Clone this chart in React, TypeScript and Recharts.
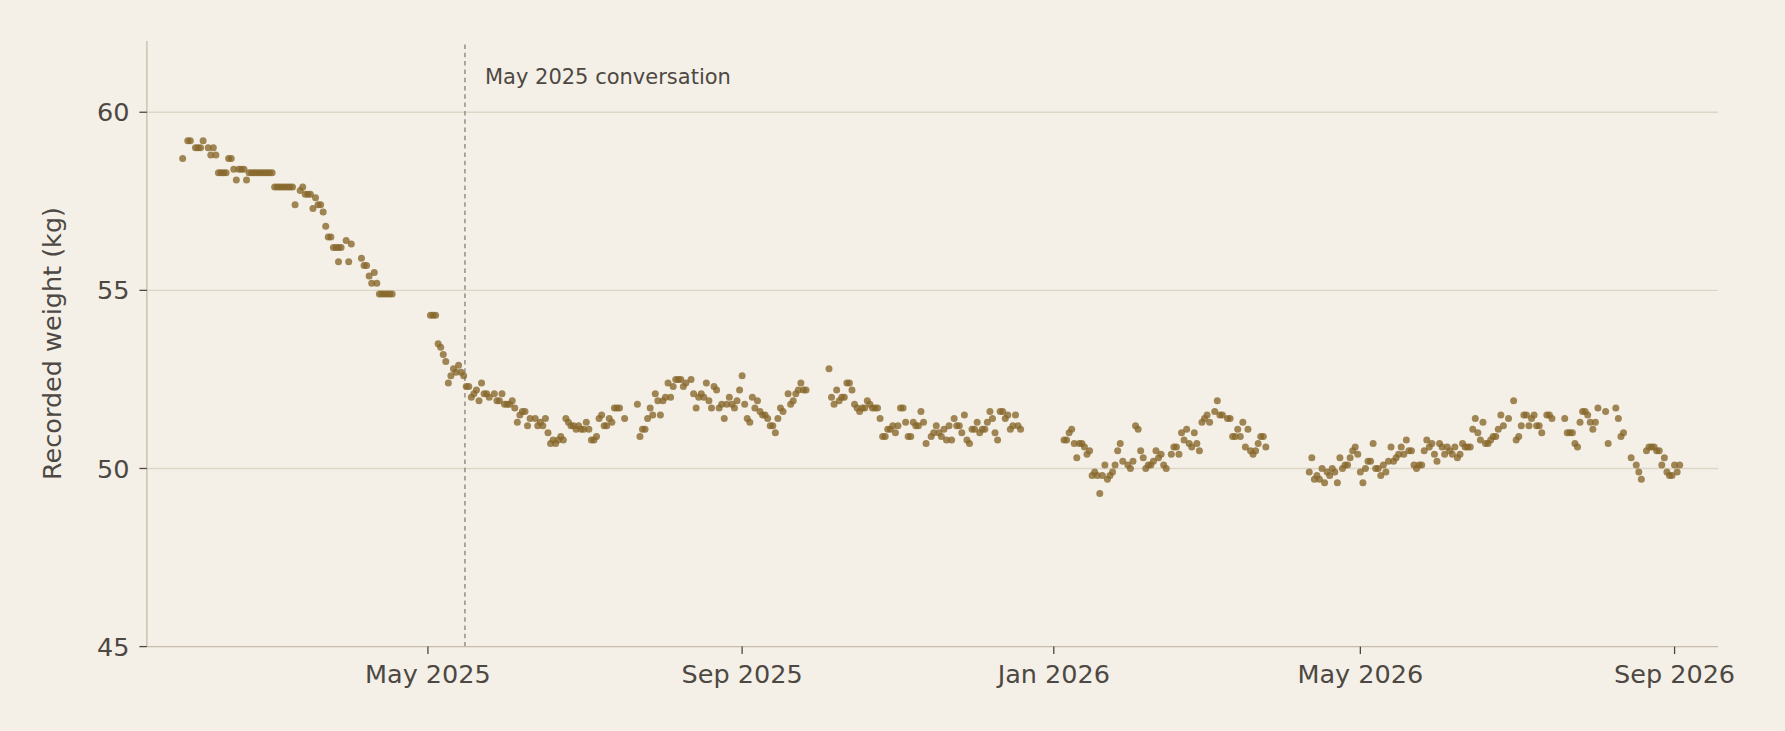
import { ScatterChart, Scatter, XAxis, YAxis, CartesianGrid, ReferenceLine } from 'recharts'

// day offsets are counted from 1 May 2025
const dayZero = Date.UTC(2025, 4, 1)
const MS_PER_DAY = 86400000
const dayOf = (iso: string) => (Date.parse(iso + 'T00:00:00Z') - dayZero) / MS_PER_DAY

const tickDates = ['2025-05-01', '2025-09-01', '2026-01-01', '2026-05-01', '2026-09-01']
const tickLabels = ['May 2025', 'Sep 2025', 'Jan 2026', 'May 2026', 'Sep 2026']
const yTicks = [45, 50, 55, 60]
const conversationDay = 14.5
const conversationLabel = 'May 2025 conversation'

// [day, kg]
const winter2025: [number, number][] = [
  [-96, 58.7], [-94, 59.2], [-93, 59.2], [-91, 59.0], [-90, 59.0], [-89, 59.0], [-88, 59.2],
  [-86, 59.0], [-85, 58.8], [-84, 59.0], [-83, 58.8], [-82, 58.3], [-81, 58.3], [-80, 58.3],
  [-79, 58.3], [-78, 58.7], [-77, 58.7], [-76, 58.4], [-75, 58.1], [-74, 58.4], [-73, 58.4],
  [-72, 58.4], [-71, 58.1], [-70, 58.3], [-69, 58.3], [-68, 58.3], [-67, 58.3], [-66, 58.3],
  [-65, 58.3], [-64, 58.3], [-63, 58.3], [-62, 58.3], [-61, 58.3], [-60, 57.9], [-59, 57.9],
  [-58, 57.9], [-57, 57.9], [-56, 57.9], [-55, 57.9], [-54, 57.9], [-53, 57.9], [-52, 57.4],
  [-50, 57.8], [-49, 57.9], [-48, 57.7], [-47, 57.7], [-46, 57.7], [-45, 57.3], [-44, 57.6],
  [-43, 57.4], [-42, 57.4], [-41, 57.2], [-40, 56.8], [-39, 56.5], [-38, 56.5], [-37, 56.2],
  [-36, 56.2], [-35, 56.2], [-34, 56.2], [-35, 55.8], [-32, 56.4], [-31, 55.8], [-30, 56.3],
  [-26, 55.9], [-25, 55.7], [-24, 55.7], [-23, 55.4], [-22, 55.2], [-21, 55.5], [-20, 55.2],
  [-19, 54.9], [-18, 54.9], [-17, 54.9], [-16, 54.9], [-15, 54.9], [-14, 54.9],
]

const spring2025: [number, number][] = [
  [1, 54.3], [2, 54.3], [3, 54.3], [4, 53.5], [5, 53.4], [6, 53.2], [7, 53.0], [8, 52.4],
  [9, 52.6], [10, 52.8], [11, 52.7], [12, 52.9], [13, 52.7], [14, 52.6], [15, 52.3], [16, 52.3],
  [17, 52.0], [18, 52.1], [19, 52.2], [20, 51.9], [21, 52.4], [22, 52.1], [23, 52.1], [24, 52.0],
  [26, 52.1], [27, 51.9], [28, 51.9], [29, 52.1], [30, 51.8], [31, 51.8], [32, 51.8], [33, 51.9],
  [34, 51.7], [35, 51.3], [36, 51.5], [37, 51.6], [38, 51.6], [39, 51.2], [40, 51.4], [42, 51.4],
  [43, 51.2], [44, 51.3], [45, 51.2], [46, 51.4], [47, 51.0], [48, 50.7], [49, 50.8], [50, 50.7],
  [51, 50.8], [52, 50.9], [53, 50.8], [54, 51.4], [55, 51.3], [56, 51.2], [57, 51.2], [58, 51.1],
  [59, 51.2], [60, 51.1], [61, 51.1], [62, 51.3], [63, 51.1], [64, 50.8], [65, 50.8], [66, 50.9],
  [67, 51.4], [68, 51.5], [69, 51.2], [70, 51.2], [71, 51.4], [72, 51.3], [73, 51.7], [74, 51.7],
  [75, 51.7], [77, 51.4],
]

const summer2025: [number, number][] = [
  [82, 51.8], [83, 50.9], [84, 51.1], [85, 51.1], [86, 51.4], [87, 51.7], [88, 51.5], [89, 52.1],
  [90, 51.9], [91, 51.5], [92, 51.9], [93, 52.0], [94, 52.4], [95, 52.0], [96, 52.3], [97, 52.5],
  [98, 52.5], [99, 52.5], [100, 52.3], [101, 52.4], [103, 52.5], [104, 52.1], [105, 51.7],
  [106, 52.0], [107, 52.1], [108, 52.0], [109, 52.4], [110, 51.9], [111, 51.7], [112, 52.3],
  [113, 52.2], [114, 51.7], [115, 51.8], [116, 51.4], [117, 51.8], [118, 52.0], [119, 51.8],
  [120, 51.7], [121, 51.9], [122, 52.2], [123, 52.6], [124, 51.8], [125, 51.4], [126, 51.3],
  [127, 52.0], [128, 51.7], [129, 51.9], [130, 51.6], [131, 51.5], [132, 51.5], [133, 51.4],
  [134, 51.2], [135, 51.2], [136, 51.0], [137, 51.4], [138, 51.7], [139, 51.6], [141, 52.1],
  [142, 51.8], [143, 51.9], [144, 52.1], [145, 52.2], [146, 52.4], [147, 52.2], [148, 52.2],
]

const autumn2025: [number, number][] = [
  [157, 52.8], [158, 52.0], [159, 51.8], [160, 52.2], [161, 51.9], [162, 52.0], [163, 52.0],
  [164, 52.4], [165, 52.4], [166, 52.2], [167, 51.8], [168, 51.7], [169, 51.6], [170, 51.7],
  [171, 51.7], [172, 51.9], [173, 51.8], [174, 51.7], [175, 51.7], [176, 51.7], [177, 51.4],
  [178, 50.9], [179, 50.9], [180, 51.1], [181, 51.1], [182, 51.2], [183, 51.0], [184, 51.2],
  [185, 51.7], [186, 51.7], [187, 51.3], [188, 50.9], [189, 50.9], [190, 51.3], [191, 51.2],
  [192, 51.2], [193, 51.6], [194, 51.3], [195, 50.7], [197, 50.9], [198, 51.0], [199, 51.2],
  [200, 51.0], [201, 50.9], [202, 51.1], [203, 50.8], [204, 51.2], [205, 50.8], [206, 51.4],
  [207, 51.2], [208, 51.2], [209, 51.0], [210, 51.5], [211, 50.8], [212, 50.7], [213, 51.1],
  [214, 51.1], [215, 51.3], [216, 51.0], [217, 51.1], [218, 51.1], [219, 51.3], [220, 51.6],
  [221, 51.4], [222, 51.0], [223, 50.8], [224, 51.6], [225, 51.6], [226, 51.4], [227, 51.5],
  [228, 51.1], [229, 51.2], [230, 51.5], [231, 51.2], [232, 51.1],
]

const winter2026: [number, number][] = [
  [249, 50.8], [250, 50.8], [251, 51.0], [252, 51.1], [253, 50.7], [254, 50.3], [255, 50.7],
  [256, 50.7], [257, 50.6], [258, 50.4], [259, 50.5], [260, 49.8], [261, 49.9], [262, 49.8],
  [263, 49.3], [264, 49.8], [265, 50.1], [266, 49.7], [267, 49.8], [268, 49.9], [269, 50.1],
  [270, 50.5], [271, 50.7], [272, 50.2], [274, 50.1], [275, 50.0], [276, 50.2], [277, 51.2],
  [278, 51.1], [279, 50.5], [280, 50.3], [281, 50.0], [282, 50.1], [283, 50.1], [284, 50.2],
  [285, 50.5], [286, 50.3], [287, 50.4], [288, 50.1], [289, 50.0], [291, 50.4], [292, 50.6],
  [293, 50.6], [294, 50.4], [295, 51.0], [296, 50.8], [297, 51.1], [298, 50.7], [299, 50.6],
  [300, 51.0], [301, 50.7], [302, 50.5], [303, 51.3], [304, 51.4], [305, 51.5], [306, 51.3],
  [308, 51.6], [309, 51.9], [310, 51.5], [311, 51.5], [313, 51.4], [314, 51.4], [315, 50.9],
  [316, 50.9], [317, 51.1], [318, 50.9], [319, 51.3], [320, 50.6], [321, 51.1], [322, 50.5],
  [323, 50.4], [324, 50.5], [325, 50.7], [326, 50.9], [327, 50.9], [328, 50.6],
]

const spring2026: [number, number][] = [
  [345, 49.9], [346, 50.3], [347, 49.7], [348, 49.8], [349, 49.7], [350, 50.0], [351, 49.6],
  [352, 49.9], [353, 49.8], [354, 50.0], [355, 49.9], [356, 49.6], [357, 50.3], [358, 50.0],
  [359, 50.1], [360, 50.1], [361, 50.3], [362, 50.5], [363, 50.6], [364, 50.4], [365, 49.9],
  [366, 49.6], [367, 50.0], [368, 50.2], [369, 50.2], [370, 50.7], [371, 50.0], [372, 50.0],
  [373, 49.8], [374, 50.1], [375, 49.9], [376, 50.2], [377, 50.6], [378, 50.2], [379, 50.3],
  [380, 50.4], [381, 50.6], [382, 50.4], [383, 50.8], [384, 50.5], [385, 50.5], [386, 50.1],
  [387, 50.0], [388, 50.1], [389, 50.1], [390, 50.5], [391, 50.8], [392, 50.6], [393, 50.7],
  [394, 50.4], [395, 50.2], [396, 50.7], [397, 50.6], [398, 50.4], [399, 50.6], [400, 50.5],
  [401, 50.4], [402, 50.6], [403, 50.3], [404, 50.4], [405, 50.7], [406, 50.6], [407, 50.6],
  [408, 50.6], [409, 51.1], [410, 51.4], [411, 51.0], [412, 50.8], [413, 51.3], [414, 50.7],
  [415, 50.7], [416, 50.8], [417, 50.9], [418, 50.9], [419, 51.1], [420, 51.5], [421, 51.2],
  [423, 51.4], [425, 51.9], [426, 50.8], [427, 50.9], [428, 51.2], [429, 51.5], [430, 51.5],
]

const summer2026: [number, number][] = [
  [431, 51.2], [432, 51.4], [433, 51.5], [434, 51.2], [435, 51.2], [436, 51.0], [438, 51.5],
  [439, 51.5], [440, 51.4], [445, 51.4], [446, 51.0], [447, 51.0], [448, 51.0], [449, 50.7],
  [450, 50.6], [451, 51.3], [452, 51.6], [453, 51.6], [454, 51.5], [455, 51.3], [456, 51.1],
  [457, 51.3], [458, 51.7], [461, 51.6], [462, 50.7], [465, 51.7], [466, 51.4], [467, 50.9],
  [468, 51.0], [471, 50.3], [473, 50.1], [474, 49.9], [475, 49.7], [477, 50.5], [478, 50.6],
  [479, 50.6], [480, 50.6], [481, 50.5], [482, 50.5], [483, 50.1], [484, 50.3], [485, 49.9],
  [486, 49.8], [487, 49.8], [488, 50.1], [489, 49.9], [490, 50.1],
]

const points = [winter2025, spring2025, summer2025, autumn2025, winter2026, spring2026, summer2026]
  .flat()
  .map(([day, kg]) => ({ day, kg }))

const tickDays = tickDates.map(dayOf)

const BG = '#f4f0e7'
const INK = '#4d4843'
const FONT = '"DejaVu Sans", sans-serif'

const Dot = (props: any) => (
  <circle cx={props.cx} cy={props.cy} r={3.5} fill="#86672a" fillOpacity={0.78} />
)

export default function App() {
  return (
    <div style={{ position: 'absolute', left: 0, top: 0, width: 1785, height: 731, background: BG, fontFamily: FONT }}>
      <ScatterChart width={1785} height={731} margin={{ top: 41, right: 67, bottom: 0, left: 0 }}>
        <CartesianGrid vertical={false} horizontalValues={[50, 55, 60]} stroke="#ddd6c7" strokeWidth={1.3} />
        <XAxis
          type="number"
          dataKey="day"
          domain={[-110, 505]}
          ticks={tickDays}
          interval={0}
          allowDataOverflow
          height={84.4}
          tickFormatter={(v: number) => tickLabels[tickDays.indexOf(v)] ?? ''}
          axisLine={{ stroke: '#c5bda9', strokeWidth: 1.3 }}
          tickLine={{ stroke: INK, strokeWidth: 1.3 }}
          tickSize={7.5}
          tickMargin={11}
          tick={{ fontSize: 25.5, fill: INK, fontFamily: FONT }}
        />
        <YAxis
          type="number"
          dataKey="kg"
          domain={[45, 62]}
          ticks={yTicks}
          interval={0}
          allowDataOverflow
          width={146.9}
          axisLine={{ stroke: '#c5bda9', strokeWidth: 1.3 }}
          tickLine={{ stroke: INK, strokeWidth: 1.3 }}
          tickSize={7.5}
          tickMargin={10}
          tick={{ fontSize: 25.5, fill: INK, fontFamily: FONT }}
          label={() => (
            <text
              x={61.3}
              y={343.5}
              transform="rotate(-90 61.3 343.5)"
              textAnchor="middle"
              fontSize={25.5}
              fill={INK}
              fontFamily={FONT}
            >
              Recorded weight (kg)
            </text>
          )}
        />
        <ReferenceLine
          x={conversationDay}
          stroke="#85807a"
          strokeWidth={1.3}
          strokeDasharray="4.5 3.8"
          label={(p: any) => (
            <text x={(p.viewBox?.x ?? 465) + 20} y={84.3} fontSize={21} fill={INK} fontFamily={FONT}>
              {conversationLabel}
            </text>
          )}
        />
        <Scatter data={points} shape={Dot} isAnimationActive={false} />
      </ScatterChart>
    </div>
  )
}
